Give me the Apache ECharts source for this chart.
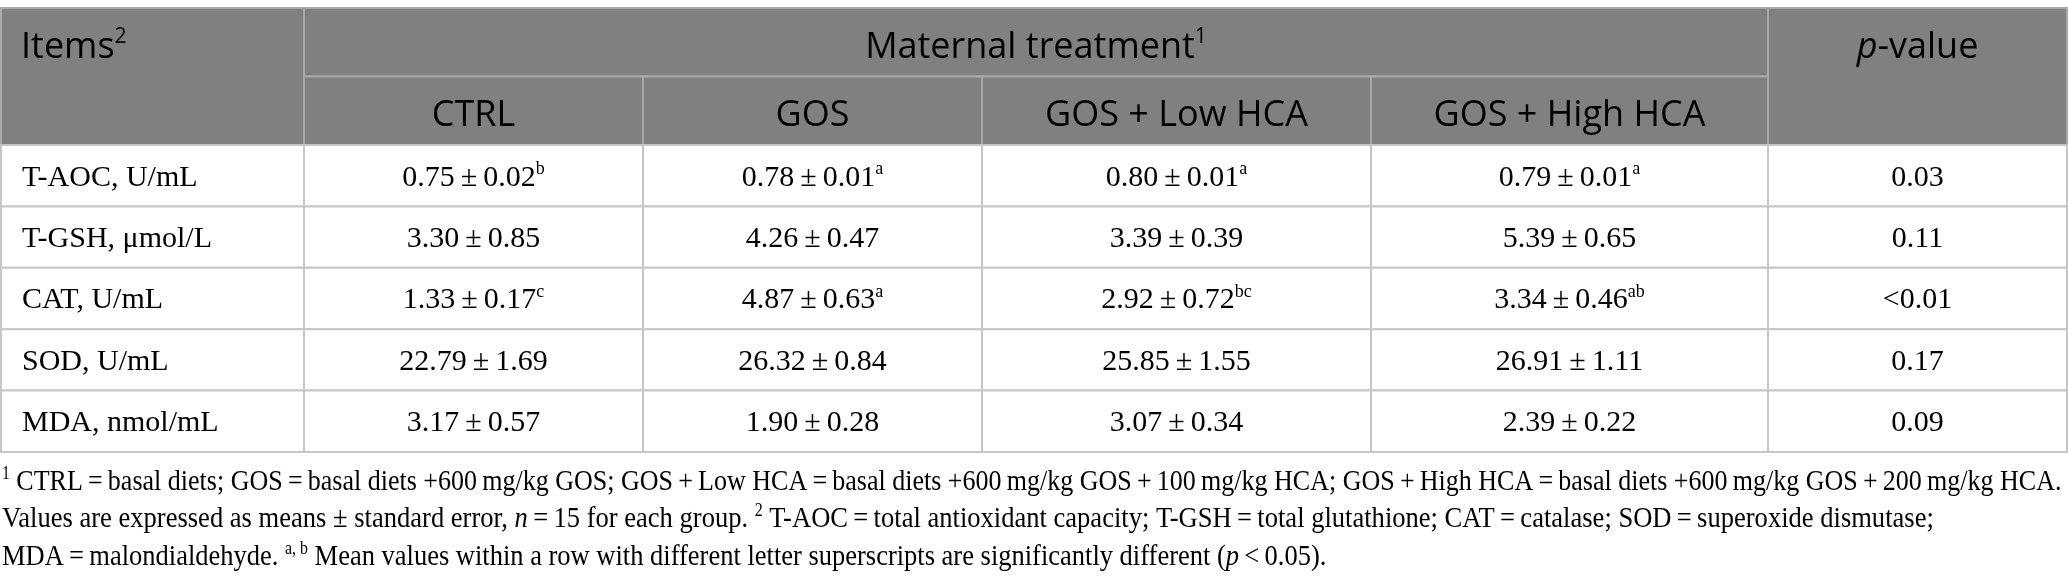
<!DOCTYPE html>
<html>
<head>
<meta charset="utf-8">
<script src="https://cdn.jsdelivr.net/npm/echarts@6/dist/echarts.min.js"></script>
<style>
	html,body{margin:0;padding:0;background:#fff;}
	#table{width:2068px;height:584px;}
</style>
</head>
<body>
<div id="table"></div>
<script>
// table content
var items = ['T-AOC, U/mL', 'T-GSH, μmol/L', 'CAT, U/mL', 'SOD, U/mL', 'MDA, nmol/mL'];
var groups = ['CTRL', 'GOS', 'GOS + Low HCA', 'GOS + High HCA'];

var ctrlMean = [0.75, 3.30, 1.33, 22.79, 3.17];
var ctrlSe   = [0.02, 0.85, 0.17, 1.69, 0.57];
var ctrlSig  = ['b', '', 'c', '', ''];

var gosMean = [0.78, 4.26, 4.87, 26.32, 1.90];
var gosSe   = [0.01, 0.47, 0.63, 0.84, 0.28];
var gosSig  = ['a', '', 'a', '', ''];

var lowMean = [0.80, 3.39, 2.92, 25.85, 3.07];
var lowSe   = [0.01, 0.39, 0.72, 1.55, 0.34];
var lowSig  = ['a', '', 'bc', '', ''];

var highMean = [0.79, 5.39, 3.34, 26.91, 2.39];
var highSe   = [0.01, 0.65, 0.46, 1.11, 0.22];
var highSig  = ['a', '', 'ab', '', ''];

var pValues = ['0.03', '0.11', '<0.01', '0.17', '0.09'];

var footnotes = [
	'{s|1}{t| CTRL\u2009=\u2009basal diets; GOS\u2009=\u2009basal diets +600\u2009mg/kg GOS; GOS\u2009+\u2009Low HCA\u2009=\u2009basal diets +600\u2009mg/kg GOS\u2009+\u2009100\u2009mg/kg HCA; GOS\u2009+\u2009High HCA\u2009=\u2009basal diets +600\u2009mg/kg GOS\u2009+\u2009200\u2009mg/kg HCA.}',
	'{t|Values are expressed as means ± standard error, }{i|n}{t|\u2009=\u200915 for each group. }{s|2}{t| T-AOC\u2009=\u2009total antioxidant capacity; T-GSH\u2009=\u2009total glutathione; CAT\u2009=\u2009catalase; SOD\u2009=\u2009superoxide dismutase;}',
	'{t|MDA\u2009=\u2009malondialdehyde. }{s|a, b}{t| Mean values within a row with different letter superscripts are significantly different (}{i|p}{t|\u2009<\u20090.05).}'
];

// layout
var colEdges = [0, 303, 642, 981, 1370, 1767, 2066];
var noteScale = [0.867, 0.885, 0.883];
var headBg = '#808080';
var headLine = '#a9a9a9';
var bodyLine = '#c6c6c6';
var ink = '#231f20';

var means = [ctrlMean, gosMean, lowMean, highMean];
var ses = [ctrlSe, gosSe, lowSe, highSe];
var sigs = [ctrlSig, gosSig, lowSig, highSig];

function sup(s){ return s ? '{s|' + s + '}' : ''; }

function bodyText(c, r){
	if (c === 0) return '{v|' + items[r] + '}';
	if (c === 5) return '{v|' + pValues[r] + '}';
	var g = c - 1;
	return '{v|' + means[g][r].toFixed(2) + '\u2009±\u2009' + ses[g][r].toFixed(2) + '}' + sup(sigs[g][r]);
}

var headerCells = [
	{c0: 0, c1: 0, r0: 0, r1: 1, text: '{t|Items}{s|2}', left: true},
	{c0: 1, c1: 4, r0: 0, r1: 0, text: '{t|Maternal treatment}{s|1}'},
	{c0: 5, c1: 5, r0: 0, r1: 1, text: '{i|p}{t|-value}'}
];
groups.forEach(function(g, i){
	headerCells.push({c0: i + 1, c1: i + 1, r0: 1, r1: 1, text: '{t|' + g + '}'});
});

var bodyData = [];
items.forEach(function(it, r){
	for (var c = 0; c < 6; c++) bodyData.push([c, r]);
});

var headRich = {
	t: {fontSize: 36, fontFamily: 'Open Sans', color: '#fff', lineHeight: 42},
	s: {fontSize: 21, fontFamily: 'Open Sans', color: '#fff', lineHeight: 21, verticalAlign: 'top'},
	i: {fontSize: 36, fontFamily: 'Open Sans', fontStyle: 'italic', color: '#fff', lineHeight: 42}
};
var bodyRich = {
	v: {fontSize: 30, fontFamily: 'Liberation Serif', color: ink, lineHeight: 34},
	s: {fontSize: 18, fontFamily: 'Liberation Serif', color: ink, lineHeight: 18, verticalAlign: 'top'}
};
var noteRich = {
	t: {fontSize: 30, fontFamily: 'Liberation Serif', color: ink, lineHeight: 34},
	i: {fontSize: 30, fontFamily: 'Liberation Serif', fontStyle: 'italic', color: ink, lineHeight: 34},
	s: {fontSize: 18, fontFamily: 'Liberation Serif', color: ink, lineHeight: 18, verticalAlign: 'top'}
};

var chart = echarts.init(document.getElementById('table'));

var option = {
	animation: false,
	grid: [
		{left: 1, width: 2066, top: 8, height: 137},
		{left: 1, width: 2066, top: 145, height: 307}
	],
	xAxis: [
		{gridIndex: 0, type: 'value', min: 0, max: 2066, show: false},
		{gridIndex: 1, type: 'value', min: 0, max: 2066, show: false}
	],
	yAxis: [
		{gridIndex: 0, type: 'value', min: 0, max: 2, inverse: true, show: false},
		{gridIndex: 1, type: 'category', data: items, inverse: true, show: false}
	],
	series: [
		{
			type: 'custom',
			xAxisIndex: 0,
			yAxisIndex: 0,
			data: headerCells.map(function(c){ return [colEdges[c.c0], c.r0]; }),
			renderItem: function(params, api){
				var cell = headerCells[params.dataIndex];
				var tl = api.coord([colEdges[cell.c0], cell.r0]);
				var br = api.coord([colEdges[cell.c1 + 1], cell.r1 + 1]);
				var ty = api.coord([0, cell.r0 + 0.5])[1] + 5;
				return {
					type: 'group',
					children: [
						{type: 'rect', shape: {x: tl[0], y: tl[1], width: br[0] - tl[0], height: br[1] - tl[1]},
							style: {fill: headBg, stroke: headLine, lineWidth: 2}},
						{type: 'text', style: {
							text: cell.text, rich: headRich,
							x: cell.left ? tl[0] + 20 : (tl[0] + br[0]) / 2, y: ty,
							align: cell.left ? 'left' : 'center', verticalAlign: 'middle'
						}}
					]
				};
			}
		},
		{
			type: 'custom',
			xAxisIndex: 1,
			yAxisIndex: 1,
			data: bodyData,
			renderItem: function(params, api){
				var c = api.value(0), r = api.value(1);
				var mid = api.coord([0, r])[1];
				var h = api.size([0, 1])[1];
				var x0 = api.coord([colEdges[c], r])[0];
				var x1 = api.coord([colEdges[c + 1], r])[0];
				return {
					type: 'group',
					children: [
						{type: 'rect', shape: {x: x0, y: mid - h / 2, width: x1 - x0, height: h},
							style: {fill: '#fff', stroke: bodyLine, lineWidth: 2}},
						{type: 'text', style: {
							text: bodyText(c, r), rich: bodyRich,
							x: c === 0 ? x0 + 21 : (x0 + x1) / 2, y: mid + 2,
							align: c === 0 ? 'left' : 'center', verticalAlign: 'middle'
						}}
					]
				};
			}
		}
	],
	graphic: footnotes.map(function(t, i){
		return {
			type: 'text', x: 2, y: 482 + i * 37.5, scaleX: noteScale[i], originX: 0,
			style: {text: t, rich: noteRich, align: 'left', verticalAlign: 'middle'}
		};
	})
};

chart.setOption(option);
</script>
</body>
</html>
